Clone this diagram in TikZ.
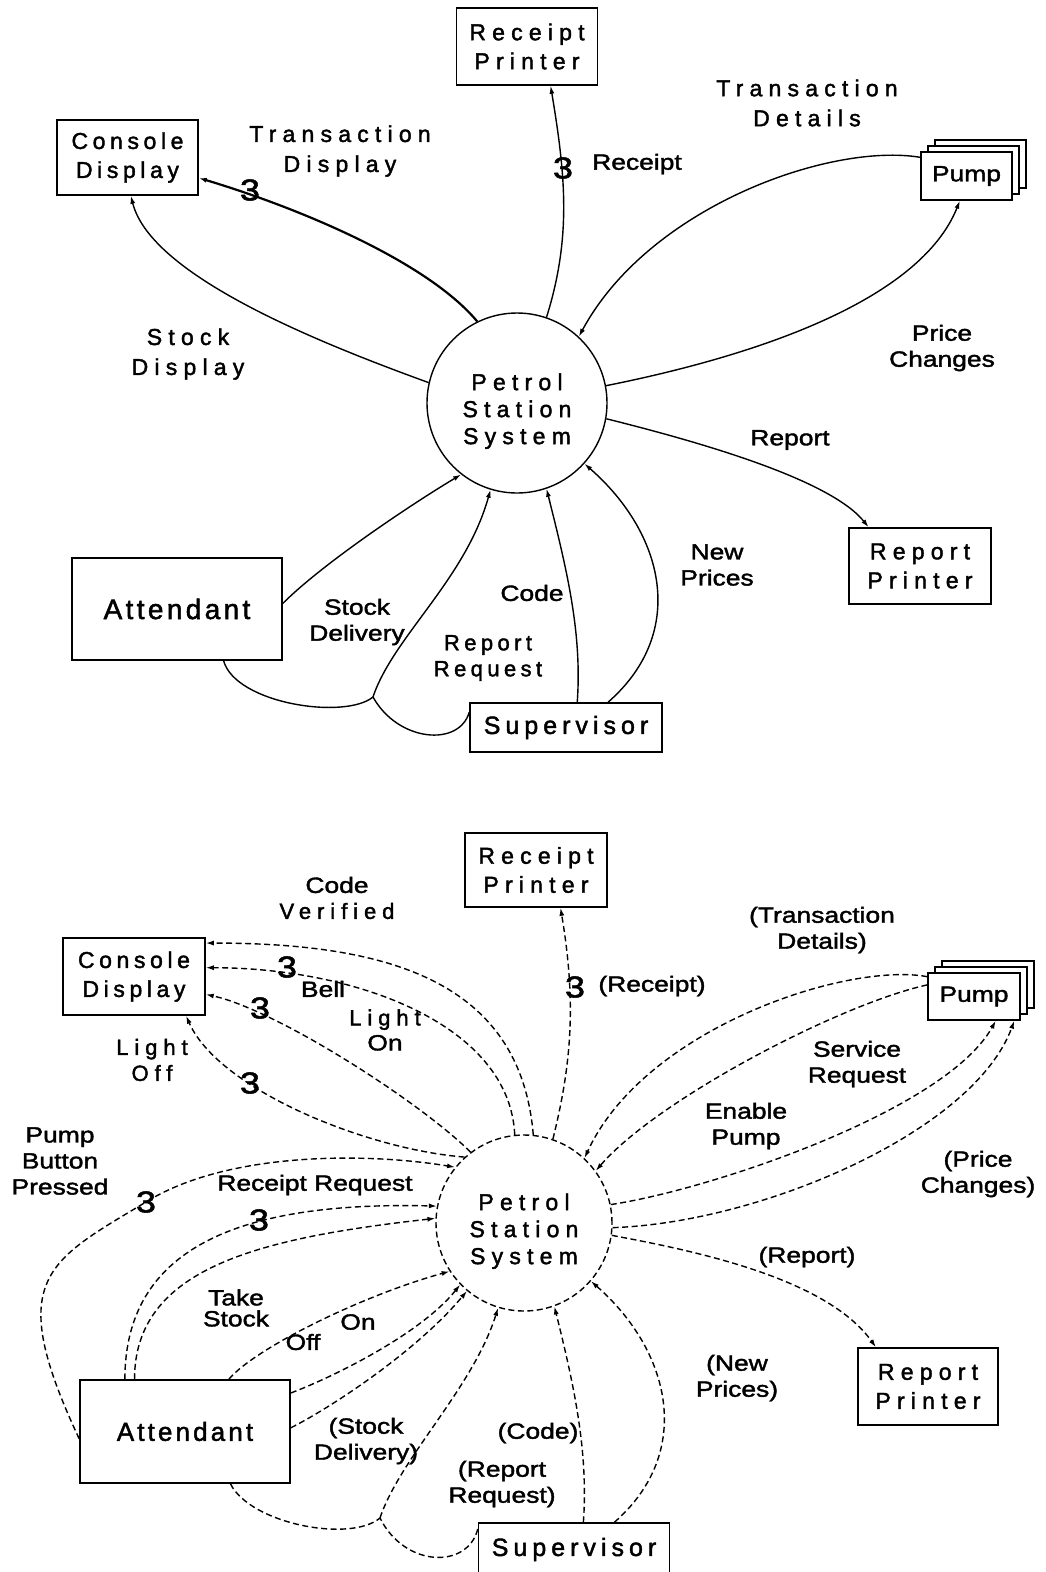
\documentclass[tikz,border=0pt]{standalone}
\usepackage{fontspec}
\newfontfamily\labfont[FakeStretch=1.2,FakeBold=1.8]{Liberation Sans}
\newfontfamily\widefont[FakeBold=1.8,LetterSpace=27]{Liberation Sans}
\newfontfamily\midfont[FakeBold=1.8,LetterSpace=20]{Liberation Sans}
\newfontfamily\tightfont[FakeBold=1.8,LetterSpace=12]{Liberation Sans}
\usetikzlibrary{arrows.meta}
\usetikzlibrary{shadows}
\tikzset{
	ebox/.style={draw, line width=1.5pt, inner sep=0pt, align=center, font=\widefont\fontsize{23}{29}\selectfont},
	pumpbox/.style={draw, fill=white, line width=1.4pt, inner sep=0pt, minimum width=91pt, minimum height=48pt,
		font=\labfont\fontsize{22}{26}\selectfont,
		double copy shadow={shadow xshift=7pt, shadow yshift=6pt, fill=white, draw=black, line width=1.4pt}},
	proc/.style={circle, draw, line width=1.4pt, inner sep=0pt, align=center, font=\widefont\fontsize{23}{27}\selectfont},
	lab/.style={inner sep=0pt, align=center, font=\labfont\fontsize{22}{26}\selectfont},
	wlab/.style={inner sep=0pt, align=center, font=\widefont\fontsize{23}{30}\selectfont},
	three/.style={inner sep=0pt, font=\labfont\fontsize{30}{30}\selectfont},
	wire/.style={line width=1.4pt},
	flow/.style={wire, -{Latex[length=8pt,width=5pt]}},
	dwire/.style={wire, dash pattern=on 6pt off 3.5pt},
	dflow/.style={dwire, -{Latex[length=8pt,width=5pt]}}
}
\begin{document}
\begin{tikzpicture}[x=1pt,y=-1pt]
	\useasboundingbox (0,0) rectangle (1045,1572);

	% context diagram
	\node[proc, minimum size=180pt] (ps1) at (517,403) {\rule{0pt}{33pt}Petrol\\Station\\System};
	\node[ebox, minimum width=141pt, minimum height=77pt] (rp1) at (527,46.5) {Receipt\\Printer};
	\node[ebox, font=\midfont\fontsize{23}{29}\selectfont, minimum width=141pt, minimum height=75pt] (cd1) at (127.5,157.5) {Console\\Display};
	\node[pumpbox] (pu1) at (966.5,176) {Pump};
	\node[ebox, font=\tightfont\fontsize{28}{30}\selectfont, minimum width=210pt, minimum height=102pt] (at1) at (177,609) {Attendant};
	\node[ebox, font=\midfont\fontsize{25}{30}\selectfont, minimum width=192pt, minimum height=49pt] (su1) at (566,727.5) {Supervisor};
	\node[ebox, minimum width=142pt, minimum height=76pt] (pr1) at (920,566) {Report\\Printer};

	\node[wlab] (td1) at (340,151) {Transaction\\Display};
	\node[wlab] (tl1) at (807,103) {Transaction\\Details};
	\node[lab] (re1) at (637,164) {Receipt};
	\node[wlab] (sd1) at (188,354) {Stock\\Display};
	\node[lab] (pc1) at (942,348) {Price\\Changes};
	\node[lab] (rr1) at (790,440) {Report};
	\node[lab] (np1) at (717,565) {New\\Prices};
	\node[lab] (co1) at (532,593) {Code};
	\node[lab] (dl1) at (357,622) {Stock\\Delivery};
	\node[wlab, font=\midfont\fontsize{22}{26}\selectfont] (rq1) at (488,658) {Report\\Request};
	\node[three] (ta) at (250,190) {3};
	\node[three] (tb) at (563,168) {3};

	\draw[flow, line width=2.2pt] (ps1.116) .. controls +(-50,-60) and +(100,30) .. (cd1.-16);
	\draw[flow] (ps1.167) .. controls +(-110,-40) and +(20,80) .. (cd1.-85);
	\draw[flow] (ps1.71) .. controls +(25,-80) and +(15,90) .. (rp1.-59);
	\draw[flow] (pu1.158) .. controls +(-90,-15) and +(70,-130) .. (ps1.47);
	\draw[flow] (ps1.11) .. controls +(150,-30) and +(-40,100) .. (pu1.-105);
	\draw[flow] (ps1.-10) .. controls +(80,20) and +(-40,-50) .. (pr1.143);
	\draw[flow] (at1.3) .. controls +(40,-40) and +(-50,30) .. (ps1.-128);
	\coordinate (j1) at (373,697);
	\draw[wire] (at1.-48) .. controls +(12,43) and +(-28,23) .. (j1);
	\draw[wire] (su1.171) .. controls +(-10,35) and +(25,45) .. (j1);
	\draw[flow] (j1) .. controls +(20,-60) and +(-25,90) .. (ps1.-107);
	\draw[flow] (su1.66) .. controls +(5,-70) and +(20,80) .. (ps1.-71);
	\draw[flow] (su1.31) .. controls +(80,-70) and +(80,70) .. (ps1.-42);

	% control flows
	\node[proc, dash pattern=on 6pt off 3.5pt, minimum size=176pt] (ps2) at (524,1223) {\rule{0pt}{33pt}Petrol\\Station\\System};
	\node[ebox, minimum width=142pt, minimum height=74pt] (rp2) at (536,870) {Receipt\\Printer};
	\node[ebox, font=\midfont\fontsize{23}{29}\selectfont, minimum width=142pt, minimum height=77pt] (cd2) at (134,976.5) {Console\\Display};
	\node[pumpbox, minimum width=92pt, minimum height=47pt] (pu2) at (974,996.5) {Pump};
	\node[ebox, font=\tightfont\fontsize{26}{30}\selectfont, minimum width=210pt, minimum height=103pt] (at2) at (185,1431.5) {Attendant};
	\node[ebox, font=\midfont\fontsize{25}{30}\selectfont, minimum width=191pt, minimum height=53pt] (su2) at (574,1549.5) {Supervisor};
	\node[ebox, minimum width=140pt, minimum height=77pt] (pr2) at (928,1386.5) {Report\\Printer};

	\node[lab] (cv2) at (337,898) {Code\\{\widefont Verified}};
	\node[lab] (be2) at (323,989) {Bell};
	\node[lab, font=\labfont\fontsize{22}{25}\selectfont] (ln2) at (385,1030) {{\widefont Light}\\On};
	\node[wlab, font=\widefont\fontsize{22}{26}\selectfont] (lf2) at (152,1060) {Light\\Off};
	\node[lab] (re2) at (652,986) {(Receipt)};
	\node[lab] (tl2) at (822,930) {(Transaction\\Details)};
	\node[lab] (sr2) at (857,1064) {Service\\Request};
	\node[lab] (ep2) at (746,1126) {Enable\\Pump};
	\node[lab] (pc2) at (978,1174) {(Price\\Changes)};
	\node[lab] (pb2) at (60,1161) {Pump\\Button\\Pressed};
	\node[lab] (rq2) at (315,1185) {Receipt Request};
	\node[lab, font=\labfont\fontsize{22}{21}\selectfont] (ts2) at (236,1308) {Take\\Stock};
	\node[lab] (of2) at (303,1342) {Off};
	\node[lab] (on2) at (358,1322) {On};
	\node[lab] (dl2) at (366,1441) {(Stock\\Delivery)};
	\node[lab] (co2) at (538,1433) {(Code)};
	\node[lab] (rr2) at (502,1484) {(Report\\Request)};
	\node[lab] (np2) at (737,1378) {(New\\Prices)};
	\node[lab] (rp2l) at (807,1257) {(Report)};
	\node[three] (tc) at (287,967) {3};
	\node[three] (td) at (260,1008) {3};
	\node[three] (te) at (250,1083) {3};
	\node[three] (tf) at (146,1202) {3};
	\node[three] (tg) at (259,1220) {3};
	\node[three] (th) at (575,987) {3};

	\draw[dflow] (ps2.84) .. controls +(-13,-155) and +(180,0) .. (cd2.25);
	\draw[dflow] (ps2.96) .. controls +(-5,-110) and +(150,0) .. (cd2.7);
	\draw[dflow] (ps2.127) .. controls +(-50,-50) and +(70,15) .. (cd2.-14);
	\draw[dflow] (ps2.132) .. controls +(-100,-8) and +(32,73) .. (cd2.-37);
	\draw[dflow] (at2.184) .. controls +(-75,-160) and +(-100,60) .. (tf.center)
		.. controls +(80,-50) and +(-90,-15) .. (ps2.141);
	\draw[dflow] (at2.139) .. controls +(0,-130) and +(-200,-5) .. (ps2.169);
	\draw[dflow] (at2.134) .. controls +(0,-110) and +(-180,20) .. (ps2.177);
	\draw[dflow] (at2.50) .. controls +(25,-30) and +(-90,25) .. (ps2.213);
	\draw[dflow] (at2.20) .. controls +(40,-15) and +(-40,50) .. (ps2.224);
	\draw[dflow] (at2.2) .. controls +(40,-20) and +(-50,60) .. (ps2.230);
	\coordinate (j2) at (380,1518);
	\draw[dwire] (at2.-49) .. controls +(20,40) and +(-30,25) .. (j2);
	\draw[dwire] (su2.168) .. controls +(-10,40) and +(25,50) .. (j2);
	\draw[dflow] (j2) .. controls +(20,-60) and +(-25,80) .. (ps2.253);
	\draw[dflow] (su2.71) .. controls +(5,-70) and +(20,80) .. (ps2.-70);
	\draw[dflow] (su2.34) .. controls +(80,-70) and +(80,70) .. (ps2.-41);
	\draw[dflow] (ps2.-8) .. controls +(80,15) and +(-50,-70) .. (pr2.143);
	\draw[dflow] (ps2.-3) .. controls +(150,-5) and +(-40,110) .. (pu2.-31);
	\draw[dflow] (ps2.12) .. controls +(100,-15) and +(-50,90) .. (pu2.-48);
	\draw[dflow] (pu2.166) .. controls +(-90,20) and +(60,-70) .. (ps2.36);
	\draw[dflow] (pu2.157) .. controls +(-80,-15) and +(60,-130) .. (ps2.47);
	\draw[dflow] (ps2.71) .. controls +(20,-80) and +(15,90) .. (rp2.-57);
\end{tikzpicture}
\end{document}
